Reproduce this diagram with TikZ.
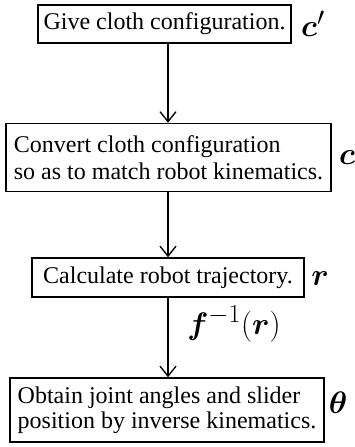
\documentclass[tikz,border=0pt]{standalone}
\usepackage[no-math]{fontspec}
\setmainfont{Liberation Serif}
\usepackage{amsmath,bm}
\usetikzlibrary{arrows.meta}
\begin{document}
\begin{tikzpicture}[x=1pt,y=-1pt,
  box/.style={draw, line width=1.6pt, inner sep=0pt, align=left},
  arr/.style={line width=1.3pt, -{Straight Barb[length=10pt,width=16pt,line width=1.3pt]}},
  lab/.style={inner sep=0pt, scale=1.25, font=\fontsize{24.88}{26}\selectfont}]
\useasboundingbox (0,0) rectangle (355,447);
\coordinate (ax) at (168,0);
\node[box, minimum width=253pt, minimum height=38pt, font=\fontsize{24}{27}\selectfont] (b1) at (164.5,24) {Give cloth configuration.};
\node[box, minimum width=325pt, minimum height=68pt, font=\fontsize{24}{27}\selectfont] (b2) at (168.5,157.5) {Convert cloth configuration\\so as to match robot kinematics.};
\node[box, minimum width=272pt, minimum height=39pt, font=\fontsize{24}{27}\selectfont] (b3) at (168,277.5) {Calculate robot trajectory.};
\node[box, minimum width=314pt, minimum height=64pt, font=\fontsize{24}{25}\selectfont] (b4) at (167,410) {Obtain joint angles and slider\\position by inverse kinematics.};
\node[lab] (l1) at (313,24) {$\bm{c}'$};
\node[lab] (l2) at (347,158) {$\bm{c}$};
\node[lab] (l3) at (320,279) {$\bm{r}$};
\node[lab] (l4) at (338,403) {$\bm{\theta}$};
\node[lab] (l5) at (234,324) {$\bm{f}^{-1}(\bm{r})$};
\draw[arr] (b1.south -| ax) -- (b2.north -| ax);
\draw[arr] (b2.south -| ax) -- (b3.north -| ax);
\draw[arr] (b3.south -| ax) -- (b4.north -| ax);
\end{tikzpicture}
\end{document}
